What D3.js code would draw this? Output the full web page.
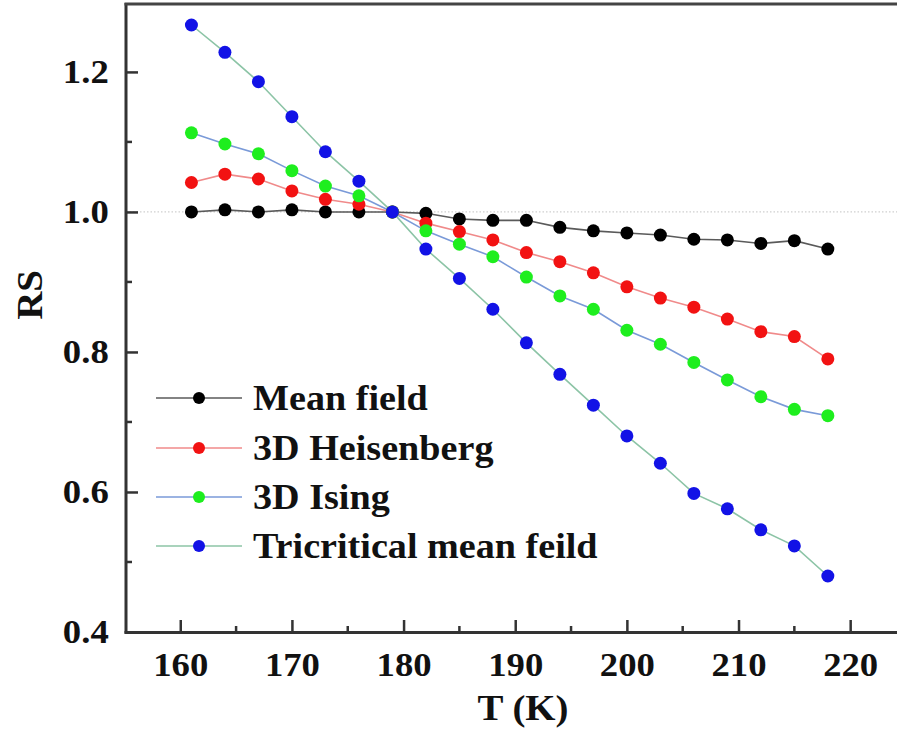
<!DOCTYPE html>
<html><head><meta charset="utf-8">
<script src="https://cdn.jsdelivr.net/npm/d3@7"></script>
<style>
html,body{margin:0;padding:0;background:#fff;}
svg{display:block;font-family:"Liberation Serif","Times New Roman",serif;font-weight:bold;}
</style></head>
<body><svg id="chart" width="897" height="735"></svg>
<script>
const temps = [161,164,167,170,173,176,179,182,185,188,191,194,197,200,203,206,209,212,215,218];
const meanField = [1.000,1.003,1.000,1.003,1.000,1.000,1.000,0.998,0.990,0.988,0.988,0.978,0.973,0.970,0.967,0.961,0.960,0.955,0.959,0.947];
const heisenberg = [1.042,1.054,1.047,1.030,1.018,1.011,1.000,0.984,0.972,0.960,0.942,0.929,0.913,0.893,0.877,0.864,0.847,0.829,0.822,0.790];
const ising = [1.113,1.097,1.083,1.059,1.037,1.023,1.000,0.973,0.954,0.936,0.907,0.880,0.861,0.831,0.811,0.785,0.760,0.736,0.718,0.709];
const tricritical = [1.267,1.228,1.186,1.136,1.086,1.044,1.000,0.947,0.905,0.861,0.813,0.768,0.724,0.680,0.641,0.598,0.576,0.546,0.523,0.480];
const seriesNames = ["Mean field","3D Heisenberg","3D Ising","Tricritical mean feild"];
const xTicks = [160,170,180,190,200,210,220];
const yTicks = [0.4,0.6,0.8,1.0,1.2];

const seriesValues = [meanField, heisenberg, ising, tricritical];
const markerColors = ["#000000","#f21212","#1eee1e","#1212e6"];
const lineColors = ["#5a5a5a","#f08a8a","#7a9ad8","#8cc4a6"];

const svg = d3.select("#chart");
const x = d3.scaleLinear().domain([155.14, 225]).range([126, 906]);
const y = d3.scaleLinear().domain([0.4, 1.297]).range([632, 4]);

// reference dotted line at 1.0
svg.append("line").attr("x1",126).attr("x2",897).attr("y1",y(1)).attr("y2",y(1))
  .attr("stroke","#cfcfcf").attr("stroke-width",1.2).attr("stroke-dasharray","1.5,2");

// series
const line = d3.line().x((d,i)=>x(temps[i])).y(d=>y(d));
seriesValues.forEach((vals, s) => {
  svg.append("path").datum(vals).attr("d", line)
    .attr("fill","none").attr("stroke", lineColors[s]).attr("stroke-width",1.6);
});
seriesValues.forEach((vals, s) => {
  svg.append("g").selectAll("circle").data(vals).join("circle")
    .attr("cx",(d,i)=>x(temps[i])).attr("cy",d=>y(d)).attr("r",6.5)
    .attr("fill", markerColors[s]);
});

// axes
const axisColor = "#333";
const xMinor = d3.range(165, 225, 10);
const yMinor = [0.5,0.7,0.9,1.1];
const gx = svg.append("g").attr("transform",`translate(0,632)`)
  .call(d3.axisBottom(x).tickValues(xTicks).tickSize(-12).tickPadding(20).tickFormat(d3.format("d")));
gx.select(".domain").remove();
gx.selectAll(".tick line").attr("stroke",axisColor).attr("stroke-width",2.5);
gx.selectAll(".tick text").attr("fill","#111").attr("font-size",34)
  .attr("font-family","Liberation Serif, serif").attr("font-weight","bold")
  .attr("transform","scale(1.08,1)").attr("dy","0.71em");
svg.append("g").selectAll("line").data(xMinor).join("line")
  .attr("x1",d=>x(d)).attr("x2",d=>x(d)).attr("y1",632).attr("y2",626)
  .attr("stroke",axisColor).attr("stroke-width",2.5);

const gy = svg.append("g").attr("transform",`translate(126,0)`)
  .call(d3.axisLeft(y).tickValues(yTicks).tickSize(-12).tickPadding(17).tickFormat(d3.format(".1f")));
gy.select(".domain").remove();
gy.selectAll(".tick line").attr("stroke",axisColor).attr("stroke-width",2.5);
gy.selectAll(".tick text").attr("fill","#111").attr("font-size",34)
  .attr("font-family","Liberation Serif, serif").attr("font-weight","bold")
  .attr("transform","scale(1.08,1)").attr("x",-16);
svg.append("g").selectAll("line").data(yMinor).join("line")
  .attr("x1",126).attr("x2",132).attr("y1",d=>y(d)).attr("y2",d=>y(d))
  .attr("stroke",axisColor).attr("stroke-width",2.5);

// frame lines
svg.append("line").attr("x1",126).attr("x2",126).attr("y1",3).attr("y2",633.5)
  .attr("stroke",axisColor).attr("stroke-width",3);
svg.append("line").attr("x1",124.5).attr("x2",897).attr("y1",632.5).attr("y2",632.5)
  .attr("stroke",axisColor).attr("stroke-width",3);
svg.append("line").attr("x1",124.5).attr("x2",897).attr("y1",4).attr("y2",4)
  .attr("stroke","#444").attr("stroke-width",3);

// axis titles
svg.append("text").attr("transform","translate(42,295) rotate(-90) scale(1.08,1)")
  .attr("text-anchor","middle").attr("font-size",36).attr("fill","#111").text("RS");
svg.append("text").attr("transform","translate(523,720) scale(1.08,1)")
  .attr("text-anchor","middle").attr("font-size",36).attr("fill","#111").text("T (K)");

// legend
const legendY = [398,448,497,546];
seriesNames.forEach((name, s) => {
  const g = svg.append("g").attr("transform",`translate(0,${legendY[s]})`);
  g.append("line").attr("x1",156).attr("x2",242).attr("y1",0).attr("y2",0)
    .attr("stroke",lineColors[s]).attr("stroke-width",1.6);
  g.append("circle").attr("cx",199).attr("cy",0).attr("r",6).attr("fill",markerColors[s]);
  g.append("text").attr("transform","translate(253,0) scale(1.06,1)").attr("dy","0.34em")
    .attr("font-size",36).attr("fill","#111").text(name);
});
</script></body></html>
